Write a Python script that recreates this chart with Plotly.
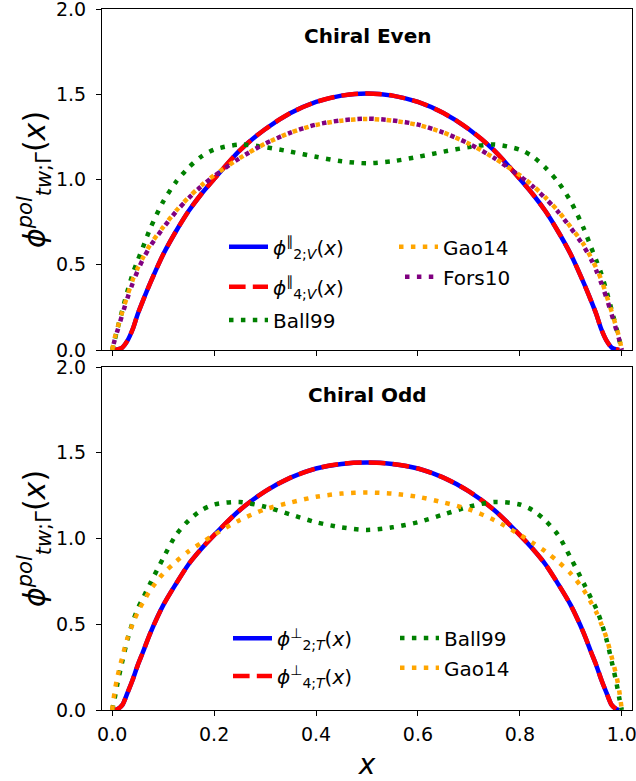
import plotly.graph_objects as go

# ---------------- data ----------------
X = [0.0, 0.005, 0.01, 0.02, 0.03, 0.04, 0.05, 0.06, 0.075, 0.1, 0.125, 0.15, 0.175, 0.2,
     0.25, 0.3, 0.35, 0.4, 0.45, 0.5, 0.55, 0.6, 0.65, 0.7, 0.75, 0.8, 0.825, 0.85, 0.875,
     0.9, 0.925, 0.94, 0.95, 0.96, 0.97, 0.98, 0.99, 0.995, 1.0]

# Chiral even (top panel)
PHI2_V = [None, 0.0, 0.003, 0.015, 0.055, 0.12, 0.21, 0.287, 0.395, 0.56, 0.695, 0.815, 0.915, 1.003,
          1.17, 1.295, 1.39, 1.455, 1.492, 1.505, 1.492, 1.455, 1.39, 1.295, 1.17, 1.003, 0.915, 0.815, 0.695,
          0.56, 0.395, 0.287, 0.21, 0.12, 0.055, 0.015, 0.003, 0.0, None]
PHI4_V = [None, 0.0, 0.003, 0.015, 0.055, 0.12, 0.21, 0.287, 0.395, 0.56, 0.695, 0.815, 0.915, 1.003,
          1.17, 1.295, 1.39, 1.455, 1.492, 1.505, 1.492, 1.455, 1.39, 1.295, 1.17, 1.003, 0.915, 0.815, 0.695,
          0.56, 0.395, 0.287, 0.21, 0.12, 0.055, 0.015, 0.003, 0.0, None]
BALL99_E = [0.0, 0.06, 0.12, 0.235, 0.345, 0.445, 0.525, 0.60, 0.715, 0.87, 0.985, 1.07, 1.135, 1.175,
            1.205, 1.19, 1.163, 1.133, 1.107, 1.095, 1.107, 1.133, 1.163, 1.19, 1.205, 1.175, 1.135, 1.07, 0.985,
            0.87, 0.715, 0.60, 0.525, 0.445, 0.345, 0.235, 0.12, 0.06, 0.0]
GAO14_E = [0.0, 0.07, 0.125, 0.225, 0.32, 0.41, 0.48, 0.54, 0.62, 0.72, 0.815, 0.895, 0.965, 1.025,
           1.125, 1.21, 1.275, 1.32, 1.345, 1.355, 1.345, 1.32, 1.275, 1.21, 1.125, 1.025, 0.965, 0.895, 0.815,
           0.72, 0.62, 0.54, 0.48, 0.41, 0.32, 0.225, 0.125, 0.07, 0.0]
FORS10_E = [0.0, 0.06, 0.11, 0.21, 0.305, 0.39, 0.465, 0.53, 0.61, 0.715, 0.81, 0.89, 0.96, 1.02,
            1.125, 1.21, 1.275, 1.322, 1.347, 1.357, 1.347, 1.322, 1.275, 1.21, 1.125, 1.02, 0.96, 0.89, 0.81,
            0.715, 0.61, 0.53, 0.465, 0.39, 0.305, 0.21, 0.11, 0.06, 0.0]

# Chiral odd (bottom panel)
PHI2_T = [None, 0.0, 0.004, 0.03, 0.10, 0.175, 0.26, 0.335, 0.45, 0.61, 0.735, 0.85, 0.94, 1.02,
          1.165, 1.275, 1.355, 1.408, 1.435, 1.443, 1.435, 1.408, 1.355, 1.275, 1.165, 1.02, 0.94, 0.85, 0.735,
          0.61, 0.45, 0.335, 0.26, 0.175, 0.10, 0.03, 0.004, 0.0, None]
PHI4_T = [None, 0.0, 0.004, 0.03, 0.10, 0.175, 0.26, 0.335, 0.45, 0.61, 0.735, 0.85, 0.94, 1.02,
          1.165, 1.275, 1.355, 1.408, 1.435, 1.443, 1.435, 1.408, 1.355, 1.275, 1.165, 1.02, 0.94, 0.85, 0.735,
          0.61, 0.45, 0.335, 0.26, 0.175, 0.10, 0.03, 0.004, 0.0, None]
BALL99_O = [0.0, 0.07, 0.15, 0.285, 0.41, 0.51, 0.59, 0.65, 0.74, 0.885, 1.02, 1.105, 1.165, 1.198,
            1.213, 1.185, 1.14, 1.095, 1.065, 1.05, 1.065, 1.095, 1.14, 1.185, 1.213, 1.198, 1.165, 1.105, 1.02,
            0.885, 0.74, 0.65, 0.59, 0.51, 0.41, 0.285, 0.15, 0.07, 0.0]
GAO14_O = [0.0, 0.11, 0.19, 0.31, 0.42, 0.50, 0.57, 0.625, 0.70, 0.795, 0.865, 0.925, 0.975, 1.022,
           1.107, 1.17, 1.21, 1.243, 1.262, 1.268, 1.262, 1.243, 1.21, 1.17, 1.107, 1.022, 0.975, 0.925, 0.865,
           0.795, 0.70, 0.625, 0.57, 0.50, 0.42, 0.31, 0.19, 0.11, 0.0]

X_TICKS = [0.0, 0.2, 0.4, 0.6, 0.8, 1.0]
Y_TICKS = [0.0, 0.5, 1.0, 1.5, 2.0]

LEG_E = ["<i>ϕ</i><sup>∥</sup><sub>2;<i>V</i></sub>(<i>x</i>)",
         "<i>ϕ</i><sup>∥</sup><sub>4;<i>V</i></sub>(<i>x</i>)",
         "Ball99", "Gao14", "Fors10"]
LEG_O = ["<i>ϕ</i><sup>⊥</sup><sub>2;<i>T</i></sub>(<i>x</i>)",
         "<i>ϕ</i><sup>⊥</sup><sub>4;<i>T</i></sub>(<i>x</i>)",
         "Ball99", "Gao14"]
YTITLE = "<i>ϕ</i><sup><i>pol</i></sup><sub><i>tw</i>;Γ</sub>(<i>x</i>)"

# ---------------- figure ----------------
FONT = "DejaVu Sans"
LW = 4.5
DOT = "4.5px,7.4px"
DOT_SHIFT = "0px,6px,4.5px,1.4px"
DASH = "16.6px,7.2px"

fig = go.Figure()

def add(y, name, color, dash, xa, ya, leg):
    fig.add_trace(go.Scatter(
        x=X, y=y, name=name, mode="lines", xaxis=xa, yaxis=ya, legend=leg,
        line=dict(color=color, width=LW, dash=dash, shape="spline", smoothing=0.8),
    ))

add(PHI2_V, LEG_E[0], "blue", "solid", "x", "y", "legend")
add(PHI4_V, LEG_E[1], "red", DASH, "x", "y", "legend2")
add(BALL99_E, LEG_E[2], "green", DOT, "x", "y", "legend3")
add(GAO14_E, LEG_E[3], "orange", DOT, "x", "y", "legend4")
add(FORS10_E, LEG_E[4], "purple", DOT_SHIFT, "x", "y", "legend5")

add(PHI2_T, LEG_O[0], "blue", "solid", "x2", "y2", "legend6")
add(PHI4_T, LEG_O[1], "red", DASH, "x2", "y2", "legend7")
add(BALL99_O, LEG_O[2], "green", DOT, "x2", "y2", "legend8")
add(GAO14_O, LEG_O[3], "orange", DOT, "x2", "y2", "legend9")

W, H = 636, 781
ML, MR, MT, MB = 102, 4, 9, 71
PW, PH = W - ML - MR, H - MT - MB

def px(xp):
    return (xp - ML) / PW

def py(yp):
    return (H - MB - yp) / PH

def leg(xp, yp):
    return dict(x=px(xp), y=py(yp), xanchor="left", yanchor="middle",
                bgcolor="rgba(0,0,0,0)", borderwidth=0, itemwidth=39,
                font=dict(family=FONT, size=20, color="black"))

axis_common = dict(showline=True, linecolor="black", linewidth=1.2, mirror=True,
                   ticks="outside", ticklen=5, tickwidth=1.2, tickcolor="black",
                   showgrid=False, zeroline=False, ticklabeloverflow="allow",
                   tickfont=dict(family=FONT, size=19, color="black"))

fig.update_layout(
    width=W, height=H,
    margin=dict(l=ML, r=MR, t=MT, b=MB, autoexpand=False),
    paper_bgcolor="white", plot_bgcolor="white",
    showlegend=True,
    xaxis=dict(domain=[0, 1], anchor="y", range=[-0.02, 1.02], tickvals=X_TICKS,
               showticklabels=False, **axis_common),
    xaxis2=dict(domain=[0, 1], anchor="y2", range=[-0.02, 1.02], matches="x", tickvals=X_TICKS,
                tickformat=".1f", ticklabelstandoff=2,
                title=dict(text="<i>x</i>", font=dict(family=FONT, size=28, color="black"), standoff=10),
                **axis_common),
    yaxis=dict(domain=[py(350), 1], anchor="x", range=[0, 2.0], tickvals=Y_TICKS, tickformat=".1f",
               ticklabelstandoff=6,
               title=dict(text=YTITLE, font=dict(family=FONT, size=30, color="black"), standoff=0),
               **axis_common),
    yaxis2=dict(domain=[0, py(367)], anchor="x2", range=[0, 2.0], tickvals=Y_TICKS, tickformat=".1f",
                ticklabelstandoff=6,
                title=dict(text=YTITLE, font=dict(family=FONT, size=30, color="black"), standoff=0),
                **axis_common),
    legend=leg(224, 246.7),
    legend2=leg(224, 286.7),
    legend3=leg(224, 320),
    legend4=leg(394, 246.7),
    legend5=leg(394, 276.7),
    legend6=leg(228, 638.3),
    legend7=leg(228, 676),
    legend8=leg(395, 638),
    legend9=leg(395, 667.7),
    annotations=[
        dict(text="<b>Chiral Even</b>", xref="x domain", yref="y domain", x=0.5, y=0.921,
             xanchor="center", yanchor="middle", showarrow=False,
             font=dict(family=FONT, size=20, color="black")),
        dict(text="<b>Chiral Odd</b>", xref="x2 domain", yref="y2 domain", x=0.5, y=0.918,
             xanchor="center", yanchor="middle", showarrow=False,
             font=dict(family=FONT, size=20, color="black")),
    ],
)

fig.write_html("out.html", config={"displayModeBar": False},
               post_script="document.body.style.margin='0';")
